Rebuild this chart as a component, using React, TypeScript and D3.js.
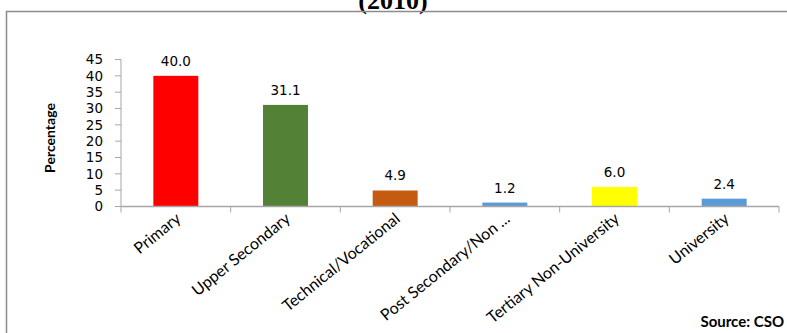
import React from 'react';
import { scaleBand, scaleLinear, range } from 'd3';

const categories = ['Primary', 'Upper Secondary', 'Technical/Vocational', 'Post Secondary/Non ...', 'Tertiary Non-University', 'University'];
const values = [40.0, 31.1, 4.9, 1.2, 6.0, 2.4];
const barColors = ['#FF0000', '#538135', '#C55A11', '#5B9BD5', '#FFFF00', '#5B9BD5'];
const yTicks = [0, 5, 10, 15, 20, 25, 30, 35, 40, 45];

const App = () => {
    const width = 787;
    const height = 333;
    const plot = { left: 121, right: 779, top: 59.5, bottom: 206.5 };

    const x = scaleBand<string>().domain(categories).range([plot.left, plot.right]).paddingInner(0.59).paddingOuter(0.295);
    const y = scaleLinear().domain([0, 45]).range([plot.bottom, plot.top]);
    const step = x.step();
    const axisColor = '#A6A6A6';
    const numFont = '"DejaVu Sans", Verdana, sans-serif';
    const labelFont = 'Lato, "Open Sans", sans-serif';

    return (
        <div style={{ position: 'absolute', left: 0, top: 0 }}>
            <svg width={width} height={height} style={{ display: 'block', background: '#fff' }}>
                {/* title cut off at top, as in the source */}
                <text x={393} y={9} textAnchor="middle" fontFamily='"Liberation Serif", "DejaVu Serif", serif' fontWeight="bold" fontSize={26} fill="#000">(2010)</text>
                <rect x={6.5} y={11.5} width={800} height={340} fill="none" stroke="#8C8C8C" strokeWidth={1.5} />

                {/* y axis */}
                <line x1={plot.left} x2={plot.left} y1={plot.top} y2={plot.bottom} stroke={axisColor} strokeWidth={1} />
                {yTicks.map((t) => (
                    <g key={t} transform={`translate(0,${y(t)})`}>
                        <line x1={plot.left - 6} x2={plot.left} stroke={axisColor} strokeWidth={1} />
                        <text x={plot.left - 18} dy="0.36em" textAnchor="end" fontFamily={numFont} fontSize={13.5} fill="#000">{t}</text>
                    </g>
                ))}
                <text transform={`translate(55,138) rotate(-90)`} textAnchor="middle" fontFamily={labelFont} fontWeight="bold" fontSize={14} fill="#000">Percentage</text>

                {/* bars */}
                {categories.map((c, i) => (
                    <g key={c}>
                        <rect x={x(c)} y={y(values[i])} width={x.bandwidth()} height={plot.bottom - y(values[i])} fill={barColors[i]} />
                        <text x={(x(c) as number) + x.bandwidth() / 2} y={y(values[i]) - 10} textAnchor="middle" fontFamily={numFont} fontSize={13.5} fill="#000">{values[i].toFixed(1)}</text>
                    </g>
                ))}

                {/* x axis */}
                <line x1={plot.left} x2={plot.right} y1={plot.bottom} y2={plot.bottom} stroke={axisColor} strokeWidth={1.5} />
                {range(categories.length + 1).map((i) => (
                    <line key={i} x1={plot.left + i * step} x2={plot.left + i * step} y1={plot.bottom} y2={plot.bottom + 6} stroke={axisColor} strokeWidth={1} />
                ))}
                {categories.map((c) => (
                    <text key={c} transform={`translate(${(x(c) as number) + x.bandwidth() / 2 + 6},${plot.bottom + 14}) rotate(-39)`} textAnchor="end" fontFamily={labelFont} fontSize={16} fill="#000">{c}</text>
                ))}

                <text x={784} y={327} textAnchor="end" fontFamily={labelFont} fontWeight="bold" fontSize={15} fill="#000">Source: CSO</text>
            </svg>
        </div>
    );
};

export default App;
